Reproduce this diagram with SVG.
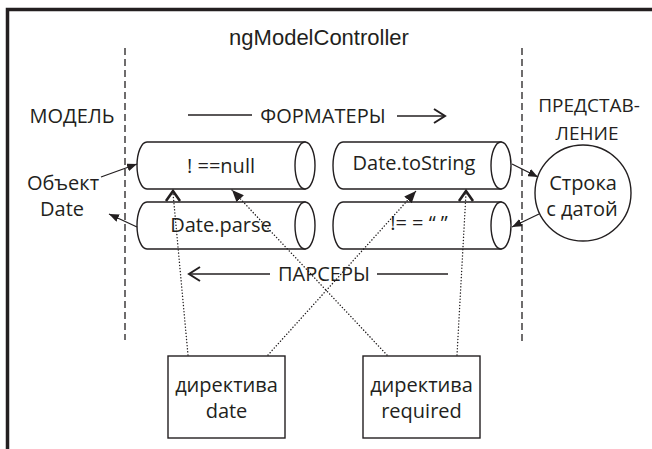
<svg xmlns="http://www.w3.org/2000/svg" width="652" height="449" viewBox="0 0 652 449">
  <style>
    .t { font-family: "Open Sans", "Noto Sans", sans-serif; font-size: 20px; fill: #231f20; text-anchor: middle; }
    .t2 { font-size: 19px; }
    .title { font-family: "Liberation Sans", Arial, sans-serif; font-size: 22px; fill: #231f20; text-anchor: middle; }
    .shape { fill: #fff; stroke: #231f20; stroke-width: 1.4; }
    .edge { fill: none; stroke: #231f20; stroke-width: 1.3; }
    .dot { fill: none; stroke: #231f20; stroke-width: 1.4; stroke-dasharray: 0.1 3; stroke-linecap: round; }
    .divider { fill: none; stroke: #231f20; stroke-width: 1.3; stroke-dasharray: 7 4; }
    .chev { fill: none; stroke: #231f20; stroke-width: 2.6; stroke-linejoin: miter; }
    .open { fill: none; stroke: #231f20; stroke-width: 2; }
  </style>
  <defs>
    <marker id="tri" viewBox="0 0 10 8" refX="10" refY="4" markerWidth="10" markerHeight="8" markerUnits="userSpaceOnUse" orient="auto">
      <path d="M0,0 L10,4 L0,8 Z" fill="#231f20"/>
    </marker>
    <marker id="triBig" viewBox="0 0 12 10" refX="12" refY="5" markerWidth="12" markerHeight="10" markerUnits="userSpaceOnUse" orient="auto">
      <path d="M0,0 L12,5 L0,10 Z" fill="#231f20"/>
    </marker>
  </defs>

  <rect width="652" height="449" fill="#fff"/>

  <!-- frame -->
  <path d="M7.5,449 V9.5 H652" fill="none" stroke="#231f20" stroke-width="3.5"/>

  <!-- title and zone labels -->
  <text class="title" x="319" y="45">ngModelController</text>
  <text class="t" x="72" y="123">МОДЕЛЬ</text>
  <text class="t t2" x="589" y="112">ПРЕДСТАВ-</text>
  <text class="t t2" x="587" y="140">ЛЕНИЕ</text>

  <!-- zone dividers -->
  <line class="divider" x1="125" y1="48" x2="125" y2="340"/>
  <line class="divider" x1="522" y1="48" x2="522" y2="345"/>

  <!-- direction labels -->
  <g id="formatters-label">
    <line class="edge" x1="188" y1="115" x2="252" y2="115"/>
    <text class="t" x="323" y="123">ФОРМАТЕРЫ</text>
    <line class="edge" x1="397" y1="116" x2="444" y2="116"/>
    <path class="open" d="M434,109 L445,116 L434,123"/>
  </g>
  <g id="parsers-label">
    <line class="edge" x1="190" y1="274" x2="270" y2="274"/>
    <path class="open" d="M200,267 L189,274 L200,281"/>
    <text class="t" x="324" y="281">ПАРСЕРЫ</text>
    <line class="edge" x1="377" y1="274" x2="448" y2="274"/>
  </g>

  <!-- model value -->
  <g id="model-date">
    <text class="t" x="63" y="190">Объект</text>
    <text class="t" x="62" y="216">Date</text>
  </g>

  <!-- formatter / parser pipeline cylinders -->
  <g id="fmt-notnull">
    <path class="shape" d="M147,142 H305 V189 H147 A10,23.5 0 0 1 147,142 Z"/>
    <ellipse class="shape" cx="305" cy="165.5" rx="10" ry="23.5"/>
    <text class="t" x="221" y="173">! ==null</text>
  </g>
  <g id="parse-date">
    <path class="shape" d="M147,202 H305 V249 H147 A10,23.5 0 0 1 147,202 Z"/>
    <ellipse class="shape" cx="305" cy="225.5" rx="10" ry="23.5"/>
    <text class="t" x="221" y="232">Date.parse</text>
  </g>
  <g id="fmt-tostring">
    <path class="shape" d="M343,142 H501 V189 H343 A10,23.5 0 0 1 343,142 Z"/>
    <ellipse class="shape" cx="501" cy="165.5" rx="10" ry="23.5"/>
    <text class="t" x="414" y="170">Date.toString</text>
  </g>
  <g id="parse-notempty">
    <path class="shape" d="M343,202 H501 V249 H343 A10,23.5 0 0 1 343,202 Z"/>
    <ellipse class="shape" cx="501" cy="225.5" rx="10" ry="23.5"/>
    <text class="t" x="419" y="230">!= = “ ”</text>
  </g>

  <!-- view value -->
  <g id="view-string">
    <circle class="shape" cx="583" cy="193" r="48"/>
    <text class="t" x="583" y="190">Строка</text>
    <text class="t" x="582" y="216">с датой</text>
  </g>

  <!-- directives -->
  <g id="directive-date">
    <rect class="shape" x="168" y="356" width="117" height="82"/>
    <text class="t" x="226.5" y="392">директива</text>
    <text class="t" x="226.5" y="418">date</text>
  </g>
  <g id="directive-required">
    <rect class="shape" x="363" y="356" width="117" height="82"/>
    <text class="t" x="421.5" y="392">директива</text>
    <text class="t" x="421.5" y="418">required</text>
  </g>

  <!-- connectors -->
  <g id="connectors">
    <line class="edge" x1="101" y1="177" x2="137" y2="164" marker-end="url(#tri)"/>
    <line class="edge" x1="137" y1="227" x2="109" y2="214" marker-end="url(#tri)"/>
    <line class="edge" x1="512" y1="164" x2="538" y2="177" marker-end="url(#tri)"/>
    <line class="edge" x1="539" y1="214" x2="512" y2="227" marker-end="url(#tri)"/>

    <!-- date directive hooks -->
    <line class="dot" x1="188" y1="355" x2="173" y2="193"/>
    <path class="chev" d="M166,201 L173,191 L180,201"/>
    <line class="dot" x1="268" y1="355" x2="416" y2="191" marker-end="url(#triBig)"/>

    <!-- required directive hooks -->
    <line class="dot" x1="387" y1="355" x2="232" y2="190" marker-end="url(#triBig)"/>
    <line class="dot" x1="457" y1="355" x2="466" y2="193"/>
    <path class="chev" d="M459,201 L466,191 L473,201"/>
  </g>
</svg>
